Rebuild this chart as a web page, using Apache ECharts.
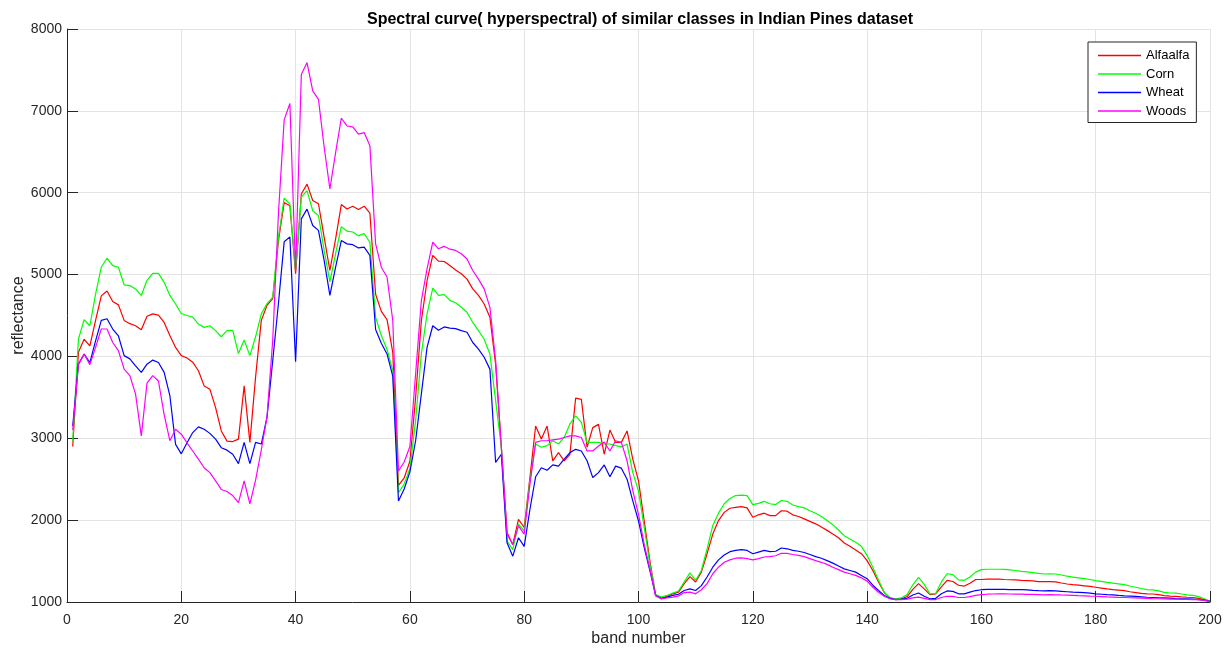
<!DOCTYPE html>
<html>
<head>
<meta charset="utf-8">
<script src="https://cdn.jsdelivr.net/npm/echarts@6/dist/echarts.min.js"></script>
<style>
html,body{margin:0;padding:0;background:#fff;}
#chart{width:1227px;height:648px;}
</style>
</head>
<body>
<div id="chart"></div>
<script>
var seriesNames = ['Alfaalfa', 'Corn', 'Wheat', 'Woods'];
var xTicks = [0, 20, 40, 60, 80, 100, 120, 140, 160, 180, 200];
var yTicks = [1000, 2000, 3000, 4000, 5000, 6000, 7000, 8000];

var alfaalfa = [
2900,4050,4210,4130,4440,4740,4800,4670,4630,4440,
4400,4375,4325,4490,4520,4505,4415,4255,4110,4010,
3980,3930,3825,3640,3600,3375,3090,2965,2960,2990,
3640,2950,3750,4440,4625,4705,5415,5880,5840,5010,
5985,6105,5905,5865,5455,5050,5435,5855,5800,5835,
5795,5835,5750,4760,4550,4450,4050,2425,2515,2720,
3500,4435,4925,5235,5165,5160,5110,5055,5010,4945,
4825,4745,4640,4480,3905,2890,1850,1700,2010,1910,
2520,3150,2990,3150,2725,2825,2725,2805,3490,3475,
2890,3130,3170,2805,3100,2950,2950,3090,2745,2480,
1990,1500,1085,1040,1070,1100,1120,1225,1310,1245,
1365,1590,1830,1995,2095,2145,2155,2165,2150,2035,
2065,2085,2055,2055,2115,2110,2065,2045,2015,1985,
1955,1915,1875,1830,1785,1720,1680,1635,1590,1505,
1385,1245,1115,1050,1035,1040,1065,1155,1225,1160,
1090,1100,1185,1265,1250,1205,1195,1230,1275,1275,
1280,1280,1280,1275,1272,1270,1265,1262,1258,1250,
1248,1250,1245,1232,1220,1212,1205,1198,1190,1180,
1170,1160,1152,1145,1138,1125,1115,1105,1100,1098,
1090,1078,1072,1068,1062,1058,1055,1045,1030,1010
];

var corn = [
2970,4210,4450,4375,4760,5090,5200,5110,5090,4875,
4865,4825,4745,4930,5015,5015,4905,4745,4640,4525,
4500,4480,4395,4355,4375,4315,4240,4315,4320,4035,
4200,4010,4240,4520,4645,4725,5455,5935,5860,5050,
5945,6025,5780,5720,5295,4910,5255,5585,5530,5520,
5475,5500,5395,4480,4255,4085,3830,2335,2440,2630,
3215,4030,4520,4835,4745,4755,4685,4655,4600,4540,
4415,4315,4210,4030,3460,2890,1745,1640,1950,1870,
2480,2930,2890,2910,2970,2930,3010,3175,3275,3195,
2950,2950,2950,2930,2930,2910,2895,2930,2580,2355,
1910,1460,1090,1060,1080,1110,1135,1245,1355,1265,
1385,1650,1935,2085,2200,2265,2300,2305,2300,2190,
2205,2230,2200,2190,2240,2230,2185,2165,2150,2115,
2085,2045,1995,1945,1880,1810,1770,1730,1680,1570,
1425,1265,1120,1050,1035,1050,1090,1210,1300,1215,
1100,1105,1245,1345,1335,1270,1265,1305,1365,1395,
1400,1400,1400,1398,1392,1385,1375,1368,1360,1350,
1342,1345,1342,1330,1315,1305,1295,1285,1275,1262,
1252,1240,1230,1222,1212,1195,1180,1165,1152,1148,
1135,1118,1110,1108,1098,1088,1082,1065,1040,1010
];

var wheat = [
3150,3906,4030,3925,4190,4440,4460,4335,4250,4010,
3970,3885,3805,3905,3955,3925,3805,3520,2925,2810,
2945,3070,3140,3110,3060,2990,2885,2855,2805,2690,
2950,2690,2950,2930,3260,3950,4650,5400,5460,3935,
5680,5800,5600,5540,5170,4745,5090,5415,5375,5365,
5325,5335,5235,4330,4160,4030,3760,2235,2380,2590,
2970,3540,4110,4375,4320,4360,4345,4340,4315,4295,
4170,4090,3990,3845,2705,2805,1725,1560,1785,1680,
2130,2530,2640,2610,2675,2660,2745,2825,2865,2845,
2725,2520,2580,2675,2530,2660,2635,2500,2235,1990,
1665,1380,1080,1045,1060,1080,1095,1140,1160,1140,
1200,1305,1425,1515,1575,1615,1630,1640,1630,1590,
1610,1630,1615,1620,1660,1650,1630,1620,1605,1580,
1555,1535,1505,1475,1440,1405,1385,1365,1325,1285,
1205,1140,1080,1045,1030,1035,1045,1085,1110,1070,
1040,1045,1100,1135,1130,1100,1100,1120,1140,1150,
1155,1155,1155,1155,1152,1150,1150,1148,1142,1138,
1135,1138,1135,1130,1125,1120,1117,1114,1108,1100,
1095,1090,1086,1080,1075,1072,1068,1063,1058,1055,
1052,1050,1047,1042,1040,1038,1035,1030,1022,1008
];

var woods = [
3100,3900,4030,3900,4110,4335,4335,4170,4070,3845,
3765,3540,3030,3675,3765,3700,3290,2970,3110,3050,
2945,2845,2745,2640,2580,2480,2375,2350,2300,2215,
2480,2200,2490,2860,3265,4200,5750,6890,7090,5050,
7445,7590,7245,7140,6555,6045,6490,6910,6815,6805,
6715,6735,6575,5375,5090,4970,4440,2600,2710,2900,
3785,4680,5070,5395,5315,5345,5310,5295,5255,5190,
5050,4945,4825,4600,3950,2890,1830,1700,1930,1830,
2440,2950,2970,2970,2980,2990,3010,3030,3030,3010,
2845,2845,2905,2955,2845,2970,2950,2725,2360,2070,
1705,1400,1075,1040,1050,1060,1075,1115,1120,1100,
1150,1225,1345,1425,1485,1515,1535,1540,1530,1515,
1530,1550,1555,1565,1595,1595,1580,1570,1555,1530,
1505,1485,1460,1425,1395,1365,1345,1325,1295,1255,
1180,1120,1070,1040,1030,1030,1035,1050,1060,1045,
1030,1030,1055,1070,1068,1055,1055,1065,1080,1090,
1095,1098,1100,1100,1098,1096,1095,1094,1092,1090,
1088,1090,1088,1086,1085,1082,1078,1075,1072,1070,
1066,1062,1060,1057,1055,1052,1050,1048,1045,1040,
1040,1038,1036,1035,1033,1032,1030,1028,1020,1005
];

var colors = ['#ff0000', '#00ff00', '#0000ff', '#ff00ff'];
var allData = [alfaalfa, corn, wheat, woods];

function toPairs(arr) {
  return arr.map(function (v, i) { return [i + 1, v]; });
}

var chart = echarts.init(document.getElementById('chart'), null, {renderer: 'canvas'});
var FONT = 'Liberation Sans, Arial, sans-serif';

var series = seriesNames.map(function (name, k) {
  return {
    name: name,
    type: 'line',
    data: toPairs(allData[k]),
    symbol: 'none',
    showSymbol: false,
    lineStyle: {color: colors[k], width: 1.2},
    itemStyle: {color: colors[k]},
    animation: false,
    z: 2 + k
  };
});

chart.setOption({
  backgroundColor: '#ffffff',
  animation: false,
  color: colors,
  title: {
    text: 'Spectral curve( hyperspectral) of similar classes in Indian Pines dataset',
    left: 635,
    textAlign: 'center',
    top: 7,
    textStyle: {fontFamily: FONT, fontSize: 16, fontWeight: 'bold', color: '#000'}
  },
  legend: {
    data: seriesNames,
    orient: 'vertical',
    left: 1088,
    top: 42,
    width: 108,
    icon: 'rect',
    itemWidth: 43,
    itemHeight: 1.3,
    itemGap: 5.5,
    padding: [7, 7, 5, 10],
    borderColor: '#262626',
    borderWidth: 1,
    backgroundColor: '#ffffff',
    textStyle: {fontFamily: FONT, fontSize: 13, color: '#000'}
  },
  grid: {left: 67, right: 17, top: 29, bottom: 46, containLabel: false, outerBoundsMode: 'none'},
  xAxis: {
    type: 'value',
    min: xTicks[0],
    max: xTicks[xTicks.length - 1],
    interval: 20,
    name: 'band number',
    nameLocation: 'middle',
    nameGap: 29,
    nameMoveOverlap: false,
    nameTextStyle: {fontFamily: FONT, fontSize: 16, color: '#262626'},
    axisLine: {show: true, onZero: false, lineStyle: {color: '#262626', width: 1}},
    axisTick: {show: true, inside: true, length: 11, lineStyle: {color: '#262626'}},
    axisLabel: {fontFamily: FONT, fontSize: 14, color: '#262626', margin: 11},
    splitLine: {show: true, lineStyle: {color: '#e3e3e3', width: 1}}
  },
  yAxis: {
    type: 'value',
    min: yTicks[0],
    max: yTicks[yTicks.length - 1],
    interval: 1000,
    name: 'reflectance',
    nameLocation: 'middle',
    nameGap: 40,
    nameMoveOverlap: false,
    nameTextStyle: {fontFamily: FONT, fontSize: 16, color: '#262626'},
    axisLine: {show: true, lineStyle: {color: '#262626', width: 1}},
    axisTick: {show: true, inside: true, length: 11, lineStyle: {color: '#262626'}},
    axisLabel: {fontFamily: FONT, fontSize: 14, color: '#262626', margin: 5,
      formatter: function (v) { return String(v); }},
    splitLine: {show: true, lineStyle: {color: '#e3e3e3', width: 1}}
  },
  series: series
});
</script>
</body>
</html>
